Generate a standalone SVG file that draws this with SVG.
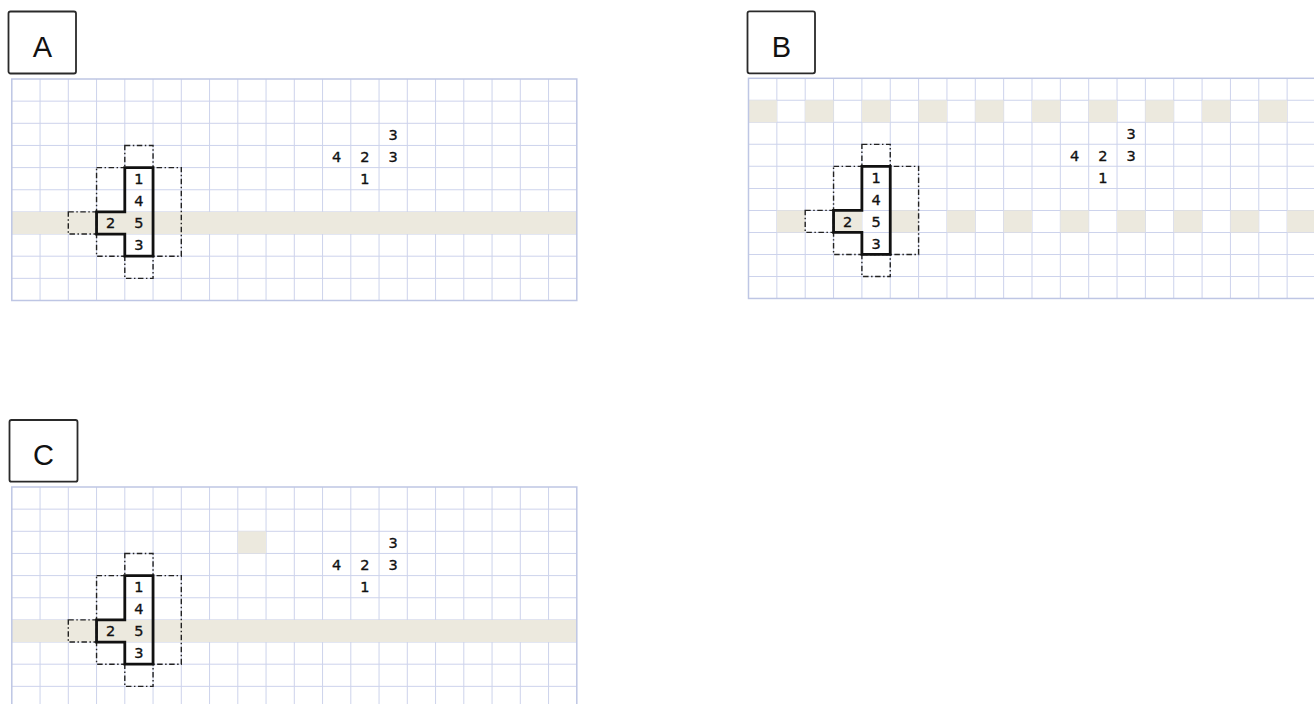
<svg xmlns="http://www.w3.org/2000/svg" xmlns:xlink="http://www.w3.org/1999/xlink" width="1314" height="704" viewBox="0 0 1314 704">
<style>
.lbl{fill:#fff;stroke:#2a2a2a;stroke-width:1.8}
.lt{font-family:"Liberation Sans",Arial,sans-serif;font-size:29px;fill:#111;text-anchor:middle}
.gl{fill:none;stroke:#CDD3EC;stroke-width:1}
.gb{fill:none;stroke:#BEC6E4;stroke-width:1.5}
.sh{fill:#ECE9DE}
.dd{fill:none;stroke:#222;stroke-width:1.4;stroke-dasharray:5.5 2.5 1.5 2.5}
.t{fill:none;stroke:#111;stroke-width:2.8;stroke-linejoin:miter}
.n{font-family:"DejaVu Sans",Verdana,sans-serif;font-size:14.5px;fill:#111;stroke:#111;stroke-width:0.35;text-anchor:middle}
</style>
<defs>
<path id="grid" class="gl" d="M28.25 0V221.5M56.5 0V221.5M84.75 0V221.5M113 0V221.5M141.25 0V221.5M169.5 0V221.5M197.75 0V221.5M226 0V221.5M254.25 0V221.5M282.5 0V221.5M310.75 0V221.5M339 0V221.5M367.25 0V221.5M395.5 0V221.5M423.75 0V221.5M452 0V221.5M480.25 0V221.5M508.5 0V221.5M536.75 0V221.5M0 22.15H565M0 44.3H565M0 66.45H565M0 88.6H565M0 110.75H565M0 132.9H565M0 155.05H565M0 177.2H565M0 199.35H565"/>
<g id="shape">
<rect class="dd" x="84.75" y="88.6" width="84.75" height="88.6"/>
<rect class="dd" x="113" y="66.45" width="28.25" height="22.15"/>
<rect class="dd" x="113" y="177.2" width="28.25" height="22.15"/>
<rect class="dd" x="56.5" y="132.9" width="28.25" height="22.15"/>
<path class="t" d="M113 88.6H141.25V177.2H113V155.05H84.75V132.9H113Z"/>
<text class="n" x="127.1" y="105">1</text>
<text class="n" x="127.1" y="127.1">4</text>
<text class="n" x="127.1" y="149.3">5</text>
<text class="n" x="127.1" y="171.4">3</text>
<text class="n" x="98.9" y="149.3">2</text>
<text class="n" x="381.4" y="60.7">3</text>
<text class="n" x="324.9" y="82.8">4</text>
<text class="n" x="353.1" y="82.8">2</text>
<text class="n" x="381.4" y="82.8">3</text>
<text class="n" x="353.1" y="105">1</text>
</g>
</defs>

<g id="panelA">
<rect class="lbl" x="8.5" y="11.5" width="67.5" height="62" rx="2"/>
<text class="lt" x="42.5" y="57">A</text>
<g transform="translate(11.8 79)">
<use xlink:href="#grid"/>
<rect class="sh" x="0" y="132.9" width="565" height="22.15"/>
<rect class="gb" x="0" y="0" width="565" height="221.5"/>
<use xlink:href="#shape"/>
</g>
</g>

<g id="panelB">
<rect class="lbl" x="747.5" y="11.3" width="67.5" height="62" rx="2"/>
<text class="lt" x="781.5" y="57">B</text>
<g transform="translate(748.5 78.3) scale(1.0035 0.994)">
<use xlink:href="#grid"/>
<g class="sh">
<rect x="0" y="22.15" width="28.25" height="22.15"/>
<rect x="56.5" y="22.15" width="28.25" height="22.15"/>
<rect x="113" y="22.15" width="28.25" height="22.15"/>
<rect x="169.5" y="22.15" width="28.25" height="22.15"/>
<rect x="226" y="22.15" width="28.25" height="22.15"/>
<rect x="282.5" y="22.15" width="28.25" height="22.15"/>
<rect x="339" y="22.15" width="28.25" height="22.15"/>
<rect x="395.5" y="22.15" width="28.25" height="22.15"/>
<rect x="452" y="22.15" width="28.25" height="22.15"/>
<rect x="508.5" y="22.15" width="28.25" height="22.15"/>
<rect x="28.25" y="132.9" width="28.25" height="22.15"/>
<rect x="84.75" y="132.9" width="28.25" height="22.15"/>
<rect x="141.25" y="132.9" width="28.25" height="22.15"/>
<rect x="197.75" y="132.9" width="28.25" height="22.15"/>
<rect x="254.25" y="132.9" width="28.25" height="22.15"/>
<rect x="310.75" y="132.9" width="28.25" height="22.15"/>
<rect x="367.25" y="132.9" width="28.25" height="22.15"/>
<rect x="423.75" y="132.9" width="28.25" height="22.15"/>
<rect x="480.25" y="132.9" width="28.25" height="22.15"/>
<rect x="536.75" y="132.9" width="28.25" height="22.15"/>
</g>
<rect class="gb" x="0" y="0" width="565" height="221.5"/>
<use xlink:href="#shape"/>
</g>
</g>

<g id="panelC">
<rect class="lbl" x="9.5" y="420" width="68" height="61.7" rx="2"/>
<text class="lt" x="43.5" y="465">C</text>
<g transform="translate(11.8 487)">
<use xlink:href="#grid"/>
<rect class="sh" x="0" y="132.9" width="565" height="22.15"/>
<rect class="sh" x="226" y="44.3" width="28.25" height="22.15"/>
<rect class="gb" x="0" y="0" width="565" height="221.5"/>
<use xlink:href="#shape"/>
</g>
</g>
</svg>
